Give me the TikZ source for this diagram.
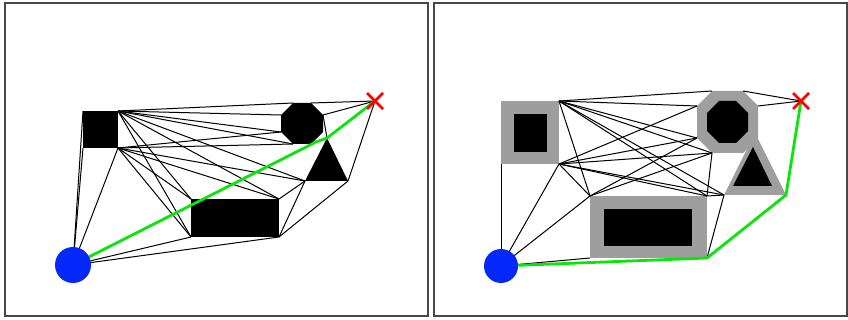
\documentclass[tikz,border=0pt]{standalone}
\begin{document}
\begin{tikzpicture}[x=1pt,y=-1pt,
  frame/.style={draw=black!72, line width=1.4pt},
  edge/.style={draw=black, line width=1pt},
  route/.style={draw=routeGreen, line width=2.8pt, line join=round, line cap=round},
  obstacle/.style={fill=black},
  inflated/.style={fill=marginGray},
  startdisc/.style={fill=startBlue},
  goalmark/.style={draw=red, line width=2.6pt}]
\definecolor{routeGreen}{RGB}{10,230,10}
\definecolor{marginGray}{RGB}{158,158,158}
\definecolor{startBlue}{RGB}{5,40,250}

\useasboundingbox (0,0) rectangle (848,320);
\fill[white] (0,0) rectangle (848,320);

% ---------------- left panel: plain obstacles ----------------
\coordinate (aS1) at (83,111);  \coordinate (aS2) at (118,111);
\coordinate (aS3) at (118,148); \coordinate (aS4) at (83,148);
\coordinate (aOTL) at (293,103); \coordinate (aOTR) at (311,103);
\coordinate (aORT) at (323,115); \coordinate (aORB) at (323,132);
\coordinate (aOBR) at (311,144); \coordinate (aOBL) at (293,144);
\coordinate (aOLB) at (281,132); \coordinate (aOLT) at (281,115);
\coordinate (aTA) at (327,138); \coordinate (aTBL) at (305,181); \coordinate (aTBR) at (348,181);
\coordinate (aRTL) at (191,199); \coordinate (aRTR) at (279,199);
\coordinate (aRBR) at (279,237); \coordinate (aRBL) at (191,237);
\coordinate (aStart) at (73,265);
\coordinate (aGoal) at (375,101);
\coordinate (aBend) at (316,142);

\foreach \u/\v in {aStart/aS1, aStart/aS4, aStart/aS3, aStart/aRBL, aStart/aRBR,
  aS2/aOTL, aOTR/aGoal, aS2/aOLT, aS2/aOLB, aS2/aOBL, aS2/aTBL, aS2/aRTR, aS2/aRTL, aS2/aRBL,
  aS3/aOLB, aS3/aOBL, aS3/aTBL, aS3/aRTR, aS3/aRTL, aS3/aRBL,
  aRTR/aTBL, aRBR/aTBL, aRBR/aTBR, aTBR/aGoal, aORT/aGoal, aORT/aTA}
  \draw[edge] (\u) -- (\v);

\fill[obstacle] (aS1) rectangle (aS3);
\fill[obstacle] (aOTL) -- (aOTR) -- (aORT) -- (aORB) -- (aOBR) -- (aOBL) -- (aOLB) -- (aOLT) -- cycle;
\fill[obstacle] (aTA) -- (aTBR) -- (aTBL) -- cycle;
\fill[obstacle] (aRTL) rectangle (aRBR);

\draw[route] (aStart) -- (aBend) -- (aTA) -- (aGoal);
\fill[startdisc] (aStart) circle (18);
\draw[goalmark] (aGoal) ++(-8,-8) -- ++(16,16) (aGoal) ++(-8,8) -- ++(16,-16);

\draw[frame] (5,3) rectangle (428,316);

% ---------------- right panel: inflated obstacles ----------------
\coordinate (bSTL) at (501,101); \coordinate (bSTR) at (559,101);
\coordinate (bSBR) at (559,164); \coordinate (bSBL) at (501,164);
\coordinate (bOTL) at (712,91);  \coordinate (bOTR) at (743,91);
\coordinate (bORT) at (758,106); \coordinate (bORB) at (758,138);
\coordinate (bOBR) at (743,153); \coordinate (bOBL) at (712,153);
\coordinate (bOLB) at (697,138); \coordinate (bOLT) at (697,106);
\coordinate (bTA) at (755,133); \coordinate (bTBL) at (724,195); \coordinate (bTBR) at (786,195);
\coordinate (bRTL) at (590,196); \coordinate (bRTR) at (707,196);
\coordinate (bRBR) at (707,258); \coordinate (bRBL) at (590,258);
\coordinate (bStart) at (501,266);
\coordinate (bGoal) at (801,101);

% inflated margins
\fill[inflated] (bSTL) rectangle (bSBR);
\fill[inflated] (bOTL) -- (bOTR) -- (bORT) -- (bORB) -- (bOBR) -- (bOBL) -- (bOLB) -- (bOLT) -- cycle;
\fill[inflated] (bTA) -- (bTBR) -- (bTBL) -- cycle;
\fill[inflated] (bRTL) rectangle (bRBR);

\foreach \u/\v in {bStart/bSBL, bStart/bSBR, bStart/bRTL, bStart/bRBL,
  bSTR/bOTL, bSTR/bOLT, bSTR/bOLB, bSTR/bOBL, bSTR/bRTL, bSTR/bRTR, bSTR/bTBL,
  bSBR/bOLT, bSBR/bOLB, bSBR/bOBL, bSBR/bRTL, bSBR/bRTR, bSBR/bTBL,
  bRTL/bOLB, bRTL/bOBL, bRTR/bOBL, bRTR/bTBL, bRBR/bTBL,
  bOTR/bGoal, bORT/bGoal}
  \draw[edge] (\u) -- (\v);

% obstacles themselves
\fill[obstacle] (514,114) rectangle (547,152);
\fill[obstacle] (719,101) -- (736,101) -- (748,113) -- (748,131) -- (736,143) -- (719,143) -- (707,131) -- (707,113) -- cycle;
\fill[obstacle] (753,147) -- (772,186) -- (733,186) -- cycle;
\fill[obstacle] (604,209) rectangle (692,246);

\draw[route] (bStart) -- (bRBR) -- (bTBR) -- (bGoal);
\fill[startdisc] (bStart) circle (17);
\draw[goalmark] (bGoal) ++(-8,-8) -- ++(16,16) (bGoal) ++(-8,8) -- ++(16,-16);

\draw[frame] (434,3) rectangle (847,316);
\end{tikzpicture}
\end{document}
